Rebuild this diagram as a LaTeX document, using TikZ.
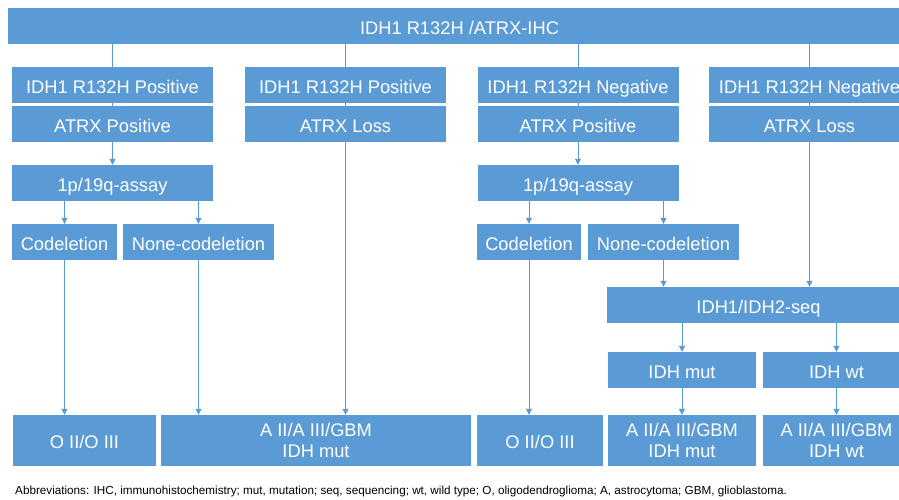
\documentclass[tikz,border=0pt]{standalone}
\usepackage{fontspec}
\setmainfont{Liberation Sans}
\usetikzlibrary{arrows.meta}
\definecolor{boxblue}{HTML}{5B9BD5}
\definecolor{lineblue}{HTML}{5B9BD5}
\tikzset{
  boxbase/.style={fill=boxblue, text=white, inner sep=0pt, align=center,
    font=\fontsize{18.3}{21}\selectfont},
  box/.style={boxbase, minimum height=36pt, text height=16.5pt, text depth=0pt},
  tallbox/.style={boxbase, minimum height=51pt},
  conn/.style={draw=lineblue, line width=1pt},
  arr/.style={conn, -{Triangle[length=6pt,width=6pt]}},
}
\begin{document}
\begin{tikzpicture}[x=1pt,y=-1pt]
\useasboundingbox (0,0) rectangle (899,500);
% top
\node[box, minimum width=903pt] (top) at (459.5,26) {IDH1 R132H /ATRX-IHC};
% row 2
\node[box, minimum width=201pt] (i1) at (112.5,85) {IDH1 R132H Positive};
\node[box, minimum width=201pt] (i2) at (345.5,85) {IDH1 R132H Positive};
\node[box, minimum width=201pt] (i3) at (578,85) {IDH1 R132H Negative};
\node[box, minimum width=201pt] (i4) at (809.5,85) {IDH1 R132H Negative};
\node[box, minimum width=201pt] (a1) at (112.5,124) {ATRX Positive};
\node[box, minimum width=201pt] (a2) at (345.5,124) {ATRX Loss};
\node[box, minimum width=201pt] (a3) at (578,124) {ATRX Positive};
\node[box, minimum width=201pt] (a4) at (809.5,124) {ATRX Loss};
% assays
\node[box, minimum width=201pt] (p1) at (112.5,183) {1p/19q-assay};
\node[box, minimum width=201pt] (p3) at (578,183) {1p/19q-assay};
\node[box, minimum width=105pt] (c1) at (64.5,242) {Codeletion};
\node[box, minimum width=151pt] (n1) at (198.5,242) {None-codeletion};
\node[box, minimum width=104pt] (c3) at (529,242) {Codeletion};
\node[box, minimum width=151pt] (n3) at (663.5,242) {None-codeletion};
% sequencing
\node[box, minimum width=303pt] (seq) at (758.5,305) {IDH1/IDH2-seq};
\node[box, minimum width=148pt] (m) at (682,370) {IDH mut};
\node[box, minimum width=147pt] (w) at (836.5,370) {IDH wt};
% bottom row
\node[box, minimum width=143pt, minimum height=51pt] (o1) at (84.5,440.5) {O II/O III};
\node[tallbox, minimum width=310pt] (b1) at (316,440.5) {A II/A III/GBM\\IDH mut};
\node[box, minimum width=126pt, minimum height=51pt] (o3) at (540,440.5) {O II/O III};
\node[tallbox, minimum width=148pt] (b3) at (682,440.5) {A II/A III/GBM\\IDH mut};
\node[tallbox, minimum width=147pt] (b4) at (836.5,440.5) {A II/A III/GBM\\IDH wt};
% footnote
\node[anchor=west, inner sep=0pt, font=\fontsize{11.7}{13}\selectfont] (fn) at (15,491)
  {Abbreviations: IHC, immunohistochemistry; mut, mutation; seq, sequencing; wt, wild type; O, oligodendroglioma; A, astrocytoma; GBM, glioblastoma.};
% connectors
\foreach \n in {i1,i2,i3,i4} {
  \draw[conn] (top.south -| \n.north) -- (\n.north);
}
\draw[conn] (i1.south) -- (a1.north);
\draw[conn] (i2.south) -- (a2.north);
\draw[conn] (i3.south) -- (a3.north);
\draw[conn] (i4.south) -- (a4.north);
\draw[arr] (a1.south) -- (p1.north);
\draw[arr] (a3.south) -- (p3.north);
\draw[arr] (p1.south -| c1.north) -- (c1.north);
\draw[arr] (p1.south -| n1.north) -- (n1.north);
\draw[arr] (p3.south -| c3.north) -- (c3.north);
\draw[arr] (p3.south -| n3.north) -- (n3.north);
\draw[arr] (c1.south) -- (c1.south |- o1.north);
\draw[arr] (n1.south) -- (n1.south |- b1.north);
\draw[arr] (a2.south) -- (a2.south |- b1.north);
\draw[arr] (c3.south) -- (c3.south |- o3.north);
\draw[arr] (n3.south) -- (n3.south |- seq.north);
\draw[arr] (a4.south) -- (a4.south |- seq.north);
\draw[arr] (seq.south -| m.north) -- (m.north);
\draw[arr] (seq.south -| w.north) -- (w.north);
\draw[arr] (m.south) -- (b3.north);
\draw[arr] (w.south) -- (b4.north);
\end{tikzpicture}
\end{document}
